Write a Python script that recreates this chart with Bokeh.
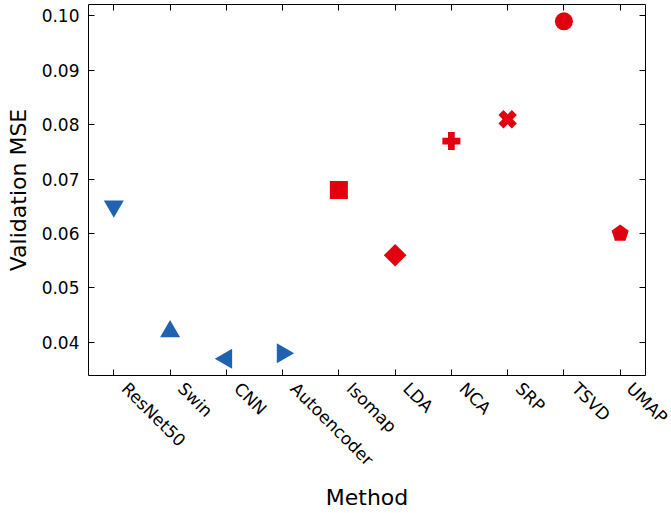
import numpy as np
from bokeh.plotting import figure
from bokeh.models import Range1d, FixedTicker, LinearAxis, PrintfTickFormatter
from bokeh.embed import file_html
from bokeh.resources import INLINE

# ---- data ----
methods = ["ResNet50", "Swin", "CNN", "Autoencoder", "Isomap",
           "LDA", "NCA", "SRP", "TSVD", "UMAP"]
mse = [0.065, 0.042, 0.037, 0.038, 0.068, 0.056, 0.077, 0.081, 0.099, 0.060]
y_ticks = [0.04, 0.05, 0.06, 0.07, 0.08, 0.09, 0.10]

# ---- styles ----
BLUE = "#1f63b0"
RED = "#e0000f"
styles = [
    ("inverted_triangle", 0.0, 20, BLUE),
    ("triangle", 0.0, 20, BLUE),
    ("triangle", np.pi / 2, 20, BLUE),
    ("triangle", -np.pi / 2, 20, BLUE),
    ("square", 0.0, 18, RED),
    ("square", np.pi / 4, 16, RED),
    ("plus", 0.0, 18, RED),
    ("plus", np.pi / 4, 19, RED),
    ("circle", 0.0, 18, RED),
    ("pentagon", 0.0, 9, RED),
]

FONT = "DejaVu Sans"
W, H = 671, 513
BL, BR, BT, BB = 88, 26, 4, 138
LABEL_SHIFT_PX = 11  # rotated tick labels start a little right of their tick

xs = list(range(len(methods)))
x0, x1 = -0.45, len(methods) - 1 + 0.45
ymin, ymax = min(mse), max(mse)
pad = 0.05 * (ymax - ymin)
y0, y1 = ymin - pad, ymax + pad
ux = (x1 - x0) / (W - BL - BR)
uy = (y1 - y0) / (H - BT - BB)

p = figure(width=W, height=H, x_range=Range1d(x0, x1), y_range=Range1d(y0, y1),
           output_backend="svg", toolbar_location=None,
           min_border_left=BL, min_border_right=BR,
           min_border_top=BT, min_border_bottom=BB)
p.grid.visible = False
p.outline_line_color = "black"
p.outline_line_width = 1
p.background_fill_color = "white"
p.border_fill_color = "white"

for xi, yi, (mk, ang, sz, col) in zip(xs, mse, styles):
    if mk == "pentagon":
        angs = np.pi / 2 + 2 * np.pi * np.arange(5) / 5
        px = list(xi + sz * np.cos(angs) * ux)
        py = list(yi + sz * np.sin(angs) * uy)
        p.patch(px, py, fill_color=col, line_color=None)
    else:
        p.scatter([xi], [yi], marker=mk, angle=ang, size=sz,
                  fill_color=col, line_color=None)

# x axis (below): visible tick marks = minor ticks at the categories,
# labels = major ticks (no line) slightly shifted to the right
label_pos = [xi + LABEL_SHIFT_PX * ux for xi in xs]
xa = p.xaxis[0]
xa.ticker = FixedTicker(ticks=label_pos, minor_ticks=xs)
xa.major_label_overrides = {lp: m for lp, m in zip(label_pos, methods)}
xa.major_label_orientation = -np.pi / 4
xa.axis_label = "Method"

ya = p.yaxis[0]
ya.ticker = FixedTicker(ticks=y_ticks)
ya.formatter = PrintfTickFormatter(format="%.2f")
ya.axis_label = "Validation MSE"

for ax in (xa, ya):
    ax.axis_line_color = None
    ax.major_tick_in = 6
    ax.major_tick_out = 0
    ax.major_tick_line_color = "black"
    ax.minor_tick_in = 6
    ax.minor_tick_out = 0
    ax.minor_tick_line_color = "black"
    ax.major_label_text_font = FONT
    ax.major_label_text_font_size = "17px"
    ax.major_label_text_color = "black"
    ax.axis_label_text_font = FONT
    ax.axis_label_text_font_size = "22px"
    ax.axis_label_text_font_style = "normal"
    ax.axis_label_text_color = "black"
ya.minor_tick_line_color = None
xa.major_tick_line_color = None

xa.major_label_standoff = 10
xa.axis_label_standoff = 6
ya.major_label_standoff = 9
ya.axis_label_standoff = 8

# mirrored ticks (top / right), drawn as minor ticks so no labels exist
top = LinearAxis(ticker=FixedTicker(ticks=[], minor_ticks=xs))
right = LinearAxis(ticker=FixedTicker(ticks=[], minor_ticks=y_ticks))
for ax in (top, right):
    ax.axis_line_color = None
    ax.minor_tick_in = 6
    ax.minor_tick_out = 0
    ax.minor_tick_line_color = "black"
    ax.major_label_standoff = 0
p.add_layout(top, "above")
p.add_layout(right, "right")

open("out.html", "w").write(file_html(p, INLINE))
